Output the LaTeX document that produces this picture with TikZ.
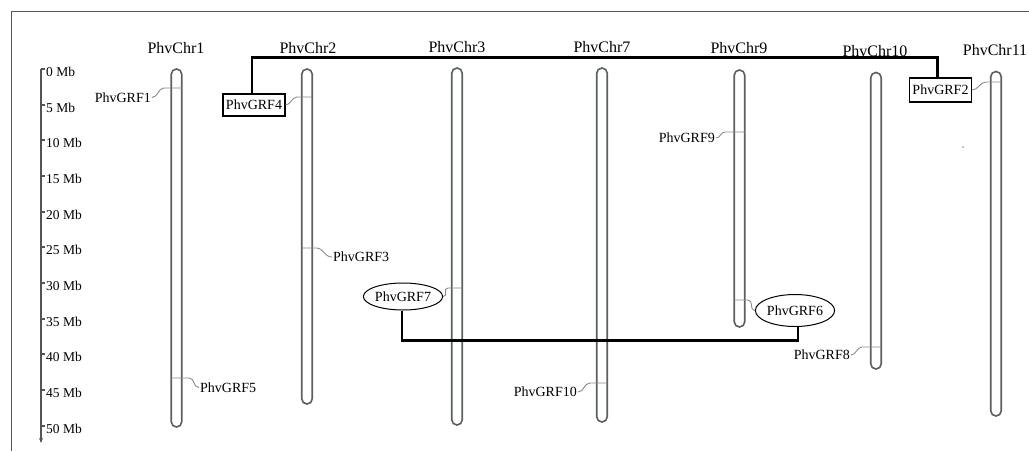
\documentclass[tikz,border=0pt]{standalone}
\usepackage{fontspec}
\setmainfont{Liberation Serif}
\usetikzlibrary{shapes.geometric,arrows.meta}
\definecolor{chromc}{HTML}{5A6060}
\definecolor{markc}{HTML}{8A8A8A}
\definecolor{axisc}{HTML}{505555}
\tikzset{
  chrom/.style={draw=chromc,line width=1.6pt,rounded corners=5.2pt,minimum width=10.5pt,inner sep=0pt,fill=white},
  ttl/.style={font=\fontsize{16}{18}\selectfont,inner sep=0pt},
  glab/.style={font=\fontsize{14}{16}\selectfont,inner sep=0pt},
  gbox/.style={glab,draw,line width=1.2pt,inner xsep=3pt,minimum height=22pt},
  gell/.style={glab,draw,line width=1pt,ellipse,inner sep=0pt},
  gline/.style={draw=markc,line width=0.9pt},
  link/.style={draw=black,line width=2.3pt},
  axisline/.style={draw=axisc,line width=1.8pt},
  scal/.style={font=\fontsize{13.5}{15}\selectfont,inner sep=0pt,anchor=west},
  framec/.style={draw=axisc,line width=1pt}
}
\begin{document}
\begin{tikzpicture}[x=1pt,y=-1pt]
\useasboundingbox (0,0) rectangle (1029,451);
\draw[framec] (1029,11) -- (11,11) -- (11,451);
% scale
\coordinate (ax0) at (41,69);
\coordinate (ax1) at (41,443);
\draw[axisline,-{Stealth[length=5pt,width=4pt]}] (ax0) -- (ax1);
\draw[axisline] (45,69) -- (ax0);
\node[scal] (s0) at (46,72) {0 Mb};
\foreach \i/\v in {1/5,2/10,3/15,4/20,5/25,6/30,7/35,8/40,9/45,10/50}{
  \draw[axisline] (41,{69+35.67*\i}) -- (44.5,{69+35.67*\i});
  \node[scal] (s\i) at (46,{72+35.67*\i}) {\v\ Mb};
}
% titles
\node[ttl] (t1) at (176,48) {PhvChr1};
\node[ttl] (t2) at (308,48) {PhvChr2};
\node[ttl] (t3) at (457,47) {PhvChr3};
\node[ttl] (t7) at (602,47) {PhvChr7};
\node[ttl] (t9) at (739,48) {PhvChr9};
\node[ttl] (t10) at (875,51) {PhvChr10};
\node[ttl] (t11) at (995,50) {PhvChr11};
% chromosomes
\node[chrom,minimum height=358pt] (c1) at (176.5,248) {};
\node[chrom,minimum height=335pt] (c2) at (307,236.5) {};
\node[chrom,minimum height=357pt] (c3) at (457,246.5) {};
\node[chrom,minimum height=354pt] (c7) at (602,245) {};
\node[chrom,minimum height=257pt] (c9) at (739.5,198.5) {};
\node[chrom,minimum height=296.5pt] (c10) at (876,220.75) {};
\node[chrom,minimum height=344.5pt] (c11) at (996,243.75) {};
% gene labels
\node[glab,anchor=east] (g1) at (151,97.5) {PhvGRF1};
\node[gbox] (g4) at (254,105) {PhvGRF4};
\node[glab,anchor=west] (g3) at (333,257) {PhvGRF3};
\node[glab,anchor=west] (g5) at (200,387.5) {PhvGRF5};
\node[gell,minimum width=67pt,minimum height=27pt] (g7) at (403,296.5) {PhvGRF7};
\node[glab,anchor=east] (g10) at (577,392) {PhvGRF10};
\node[glab,anchor=east] (g9) at (715,138) {PhvGRF9};
\node[gell,minimum width=72pt,minimum height=32pt] (g6) at (795,310.5) {PhvGRF6};
\node[glab,anchor=east] (g8) at (850,355) {PhvGRF8};
\node[gbox,minimum height=24pt] (g2) at (940.5,90) {PhvGRF2};
% marker coordinates
\coordinate (m1a) at (164,88);   \coordinate (m1b) at (182,88);
\coordinate (m4a) at (297,97);   \coordinate (m4b) at (312,97);
\coordinate (m3a) at (316,248);  \coordinate (m3b) at (302,248);
\coordinate (m5a) at (189,378);  \coordinate (m5b) at (171,378);
\coordinate (m7a) at (448,288);  \coordinate (m7b) at (463,288);
\coordinate (m10a) at (590,383); \coordinate (m10b) at (607,383);
\coordinate (m9a) at (725,132);  \coordinate (m9b) at (745,132);
\coordinate (m6a) at (748,300);  \coordinate (m6b) at (734,300);
\coordinate (m8a) at (862,347);  \coordinate (m8b) at (881,347);
\coordinate (m2a) at (986,82);   \coordinate (m2b) at (1001,82);
% markers
\draw[gline] ([xshift=1pt]g1.east) .. controls +(6,0) and +(-6,0) .. (m1a) -- (m1b);
\draw[gline] (g4.east) .. controls +(5,0) and +(-5,0) .. (m4a) -- (m4b);
\draw[gline] ([xshift=-1pt]g3.west) .. controls +(-8,0) and +(8,0) .. (m3a) -- (m3b);
\draw[gline] ([xshift=-1pt]g5.west) .. controls +(-6,0) and +(6,0) .. (m5a) -- (m5b);
\draw[gline] (g7.east) .. controls +(6,0) and +(-6,0) .. (m7a) -- (m7b);
\draw[gline] ([xshift=1pt]g10.east) .. controls +(6,0) and +(-6,0) .. (m10a) -- (m10b);
\draw[gline] ([xshift=1pt]g9.east) .. controls +(5,0) and +(-5,0) .. (m9a) -- (m9b);
\draw[gline] (g6.west) .. controls +(-6,0) and +(6,0) .. (m6a) -- (m6b);
\draw[gline] ([xshift=1pt]g8.east) .. controls +(5,0) and +(-5,0) .. (m8a) -- (m8b);
\draw[gline] (g2.east) .. controls +(6,0) and +(-6,0) .. (m2a) -- (m2b);
% links
\draw[link] ([xshift=-2pt]g4.north) -- ++(0,-36) -| ([xshift=-3pt]g2.north);
\draw[link] ([xshift=-1pt]g7.south) -- ++(0,30) -| ([xshift=3pt]g6.south);
% speck
\fill[black] (963,147) circle (0.7pt);
\end{tikzpicture}
\end{document}
